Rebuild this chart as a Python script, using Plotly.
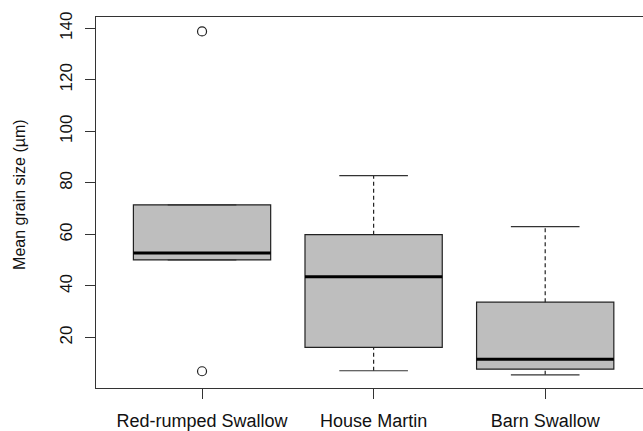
import plotly.graph_objects as go

categories = ["Red-rumped Swallow", "House Martin", "Barn Swallow"]
q1 = [50.1, 16.2, 7.7]
median = [52.8, 43.6, 11.6]
q3 = [71.5, 59.9, 33.7]
lower_whisker = [50.1, 7.1, 5.5]
upper_whisker = [71.5, 82.8, 63.0]
outlier_cat = [0, 0]
outlier_val = [138.8, 6.9]
y_ticks = [20, 40, 60, 80, 100, 120, 140]

xs = [i + 1 for i in range(len(categories))]
box_w = 0.8
cap_w = 0.4

fig = go.Figure()

fig.add_trace(go.Bar(
    x=xs, y=[b - a for a, b in zip(q1, q3)], base=q1, width=box_w,
    marker=dict(color="#BEBEBE", line=dict(color="#222222", width=1.2)),
    hoverinfo="skip"))

# dashed whiskers
wx, wy = [], []
for x, a, lo, b, hi in zip(xs, q1, lower_whisker, q3, upper_whisker):
    wx += [x, x, None, x, x, None]
    wy += [lo, a, None, b, hi, None]
fig.add_trace(go.Scatter(x=wx, y=wy, mode="lines",
                         line=dict(color="#222222", width=1.2, dash="4px,3px"),
                         hoverinfo="skip"))

# caps
cx, cy = [], []
for x, lo, hi in zip(xs, lower_whisker, upper_whisker):
    cx += [x - cap_w / 2, x + cap_w / 2, None, x - cap_w / 2, x + cap_w / 2, None]
    cy += [lo, lo, None, hi, hi, None]
fig.add_trace(go.Scatter(x=cx, y=cy, mode="lines",
                         line=dict(color="#333333", width=1.2), hoverinfo="skip"))

# medians
mx, my = [], []
for x, m in zip(xs, median):
    mx += [x - box_w / 2, x + box_w / 2, None]
    my += [m, m, None]
fig.add_trace(go.Scatter(x=mx, y=my, mode="lines",
                         line=dict(color="black", width=3), hoverinfo="skip"))

# outliers
fig.add_trace(go.Scatter(x=[xs[i] for i in outlier_cat], y=outlier_val, mode="markers",
                         marker=dict(symbol="circle-open", size=9,
                                     color="#222222", line=dict(width=1.2)),
                         hoverinfo="skip"))

fig.update_layout(
    width=643, height=431,
    margin=dict(l=96, r=0, t=17, b=43),
    paper_bgcolor="white", plot_bgcolor="white",
    showlegend=False,
    font=dict(family="Liberation Sans, Arial, sans-serif", color="#111111"),
    xaxis=dict(range=[0.382, 3.570], tickvals=xs, ticktext=categories,
               showgrid=False, zeroline=False, showline=True, mirror=True,
               linecolor="#333333", linewidth=1.2,
               ticks="outside", ticklen=10, tickcolor="#333333", tickwidth=1.2,
               tickfont=dict(size=18), ticklabelstandoff=6),
    yaxis=dict(range=[0.4, 144.4], tickvals=y_ticks,
               showgrid=False, zeroline=False, showline=True,
               linecolor="#333333", linewidth=1.2,
               ticks="outside", ticklen=10, tickcolor="#333333", tickwidth=1.2,
               tickangle=-90, tickfont=dict(size=17), ticklabelstandoff=6),
    annotations=[dict(text="Mean grain size (µm)", xref="paper", yref="paper",
                      x=-0.139, y=0.523, xanchor="center", yanchor="middle",
                      textangle=-90, showarrow=False, font=dict(size=16))],
)

fig.write_html("out.html")
